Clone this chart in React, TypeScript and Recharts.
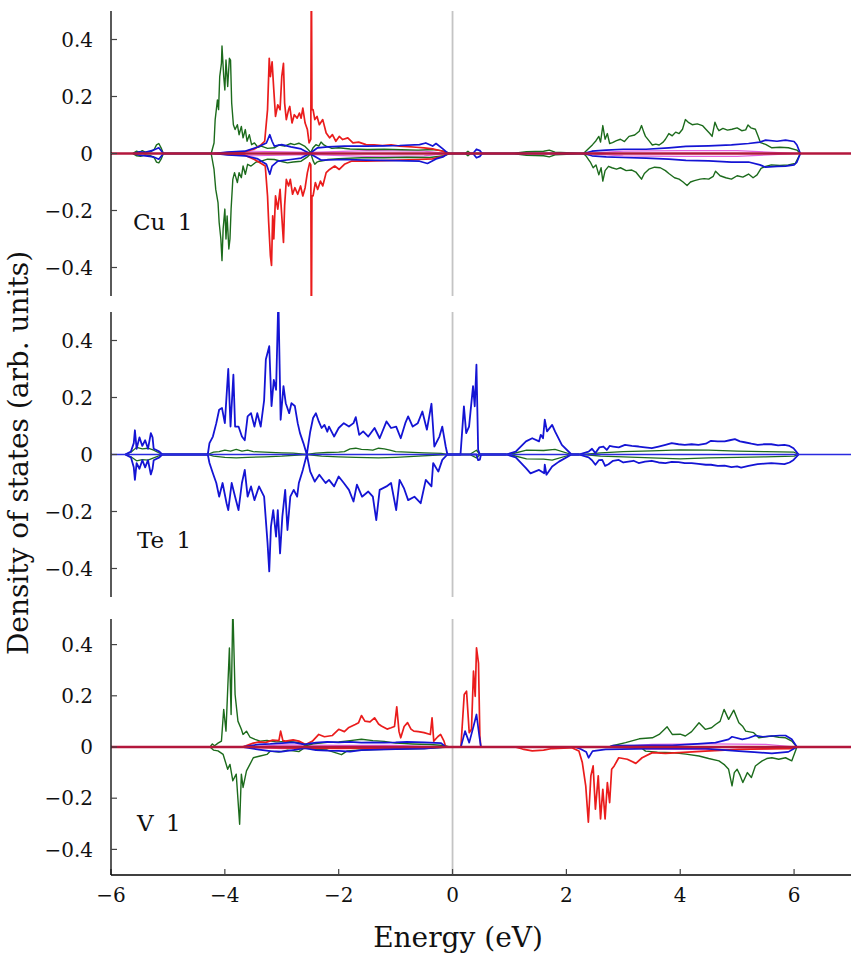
import React from "react"
import { LineChart, Line, XAxis, YAxis, ReferenceLine } from "recharts"

type P = [number, number][]

// ---- Cu 1 ----
const cuGreenUp: P = [
  [-5.62, 0], [-5.55, 0.008], [-5.5, 0.004], [-5.45, 0.01], [-5.4, 0.005], [-5.3, 0.006], [-5.24, 0.015], [-5.2, 0.03], [-5.16, 0.035], [-5.12, 0.02], [-5.08, 0],
  [-4.24, 0], [-4.19, 0.037], [-4.17, 0.119], [-4.13, 0.188], [-4.11, 0.154], [-4.09, 0.27], [-4.06, 0.316], [-4.05, 0.377], [-4.02, 0.27], [-4.0, 0.223], [-3.98, 0.328], [-3.95, 0.235], [-3.92, 0.334], [-3.9, 0.328], [-3.88, 0.177], [-3.85, 0.101], [-3.82, 0.084], [-3.78, 0.101], [-3.75, 0.066], [-3.71, 0.095], [-3.68, 0.055], [-3.64, 0.084], [-3.61, 0.043], [-3.57, 0.066], [-3.53, 0.031], [-3.48, 0.037], [-3.42, 0.022], [-3.36, 0.026], [-3.25, 0.018], [-3.13, 0.02], [-3.05, 0.03], [-2.95, 0.026], [-2.85, 0.035], [-2.78, 0.031], [-2.7, 0.036], [-2.6, 0.026], [-2.53, 0.012], [-2.49, 0.003], [-2.45, 0.02], [-2.4, 0.031], [-2.35, 0.026], [-2.31, 0.04], [-2.26, 0.03], [-2.22, 0.026], [-2.12, 0.018], [-2.0, 0.02], [-1.8, 0.016], [-1.5, 0.014], [-1.2, 0.015], [-0.9, 0.013], [-0.6, 0.012], [-0.35, 0.014], [-0.2, 0.01], [-0.1, 0.005], [-0.05, 0],
  [0.22, 0], [0.27, 0.008], [0.32, 0], [1.05, 0], [1.3, 0.006], [1.6, 0.008], [1.7, 0.012], [1.8, 0.005], [2.3, 0],
  [2.35, 0.01], [2.46, 0.031], [2.52, 0.045], [2.57, 0.06], [2.6, 0.04], [2.64, 0.098], [2.68, 0.05], [2.72, 0.07], [2.76, 0.035], [2.81, 0.038], [2.88, 0.045], [2.95, 0.05], [3.02, 0.042], [3.1, 0.06], [3.2, 0.065], [3.28, 0.078], [3.32, 0.098], [3.36, 0.075], [3.39, 0.06], [3.45, 0.045], [3.51, 0.03], [3.57, 0.033], [3.63, 0.03], [3.7, 0.04], [3.74, 0.05], [3.8, 0.07], [3.86, 0.062], [3.92, 0.075], [3.98, 0.07], [4.04, 0.085], [4.09, 0.119], [4.15, 0.108], [4.21, 0.101], [4.3, 0.104], [4.39, 0.098], [4.45, 0.085], [4.52, 0.07], [4.56, 0.06], [4.61, 0.11], [4.65, 0.09], [4.68, 0.08], [4.75, 0.088], [4.83, 0.082], [4.91, 0.085], [5.0, 0.09], [5.08, 0.08], [5.15, 0.083], [5.19, 0.1], [5.24, 0.09], [5.32, 0.085], [5.37, 0.06], [5.41, 0.038], [5.5, 0.032], [5.61, 0.02], [5.75, 0.022], [5.9, 0.02], [6.05, 0.012], [6.11, 0],
]
const cuGreenDn: P = [
  [-5.62, 0], [-5.55, -0.008], [-5.48, -0.01], [-5.4, -0.005], [-5.3, -0.008], [-5.24, -0.015], [-5.2, -0.03], [-5.16, -0.033], [-5.12, -0.02], [-5.08, 0],
  [-4.24, 0], [-4.19, -0.056], [-4.16, -0.126], [-4.12, -0.172], [-4.1, -0.242], [-4.07, -0.3], [-4.05, -0.376], [-4.03, -0.265], [-4.0, -0.195], [-3.98, -0.3], [-3.96, -0.219], [-3.93, -0.335], [-3.91, -0.3], [-3.89, -0.195], [-3.86, -0.091], [-3.83, -0.067], [-3.78, -0.102], [-3.75, -0.067], [-3.71, -0.085], [-3.68, -0.044], [-3.64, -0.073], [-3.6, -0.038], [-3.54, -0.044], [-3.45, -0.03], [-3.36, -0.027], [-3.25, -0.02], [-3.13, -0.021], [-3.0, -0.028], [-2.9, -0.033], [-2.8, -0.03], [-2.66, -0.027], [-2.55, -0.012], [-2.49, 0], [-2.45, -0.025], [-2.42, -0.038], [-2.38, -0.03], [-2.34, -0.027], [-2.26, -0.025], [-2.19, -0.021], [-2.0, -0.018], [-1.6, -0.015], [-1.2, -0.015], [-0.8, -0.013], [-0.4, -0.014], [-0.15, -0.008], [-0.05, 0],
  [0.22, 0], [0.27, -0.008], [0.32, 0], [1.05, 0], [1.3, -0.006], [1.6, -0.008], [1.7, -0.012], [1.8, -0.005], [2.3, 0],
  [2.35, -0.01], [2.42, -0.03], [2.47, -0.05], [2.52, -0.04], [2.57, -0.075], [2.61, -0.05], [2.64, -0.097], [2.68, -0.06], [2.74, -0.045], [2.8, -0.05], [2.88, -0.055], [2.95, -0.05], [3.05, -0.06], [3.15, -0.058], [3.22, -0.065], [3.28, -0.08], [3.32, -0.09], [3.37, -0.07], [3.45, -0.055], [3.55, -0.048], [3.65, -0.05], [3.74, -0.06], [3.8, -0.07], [3.9, -0.085], [3.98, -0.09], [4.05, -0.1], [4.12, -0.112], [4.18, -0.1], [4.25, -0.095], [4.35, -0.09], [4.42, -0.088], [4.5, -0.09], [4.58, -0.08], [4.62, -0.062], [4.7, -0.078], [4.8, -0.085], [4.9, -0.09], [5.0, -0.078], [5.1, -0.083], [5.2, -0.072], [5.28, -0.085], [5.35, -0.075], [5.42, -0.052], [5.5, -0.045], [5.6, -0.04], [5.75, -0.042], [5.9, -0.04], [6.02, -0.035], [6.11, 0],
]
const cuRedUp: P = [
  [-4.2, 0], [-3.9, 0.004], [-3.65, 0.006], [-3.48, 0.016], [-3.36, 0.031], [-3.3, 0.043], [-3.25, 0.154], [-3.22, 0.334], [-3.2, 0.27], [-3.17, 0.322], [-3.14, 0.223], [-3.11, 0.13], [-3.07, 0.171], [-3.03, 0.154], [-3.0, 0.27], [-2.97, 0.316], [-2.95, 0.177], [-2.92, 0.119], [-2.88, 0.154], [-2.86, 0.165], [-2.82, 0.107], [-2.78, 0.136], [-2.73, 0.124], [-2.69, 0.142], [-2.66, 0.124], [-2.63, 0.159], [-2.59, 0.107], [-2.55, 0.084], [-2.52, 0.037], [-2.49, 0.05], [-2.48, 0.7], [-2.47, 0.154], [-2.45, 0.154], [-2.42, 0.119], [-2.38, 0.13], [-2.34, 0.101], [-2.28, 0.119], [-2.22, 0.072], [-2.16, 0.055], [-2.11, 0.066], [-2.05, 0.043], [-1.99, 0.06], [-1.93, 0.049], [-1.84, 0.055], [-1.75, 0.037], [-1.65, 0.04], [-1.52, 0.031], [-1.38, 0.03], [-1.23, 0.028], [-1.08, 0.03], [-0.93, 0.026], [-0.78, 0.024], [-0.64, 0.022], [-0.5, 0.02], [-0.35, 0.016], [-0.17, 0.008], [-0.08, 0],
]
const cuRedDn: P = [
  [-4.2, 0], [-3.9, -0.004], [-3.65, -0.006], [-3.48, -0.021], [-3.36, -0.035], [-3.29, -0.044], [-3.25, -0.149], [-3.23, -0.242], [-3.2, -0.358], [-3.18, -0.393], [-3.16, -0.219], [-3.14, -0.3], [-3.11, -0.149], [-3.07, -0.195], [-3.03, -0.126], [-3.0, -0.219], [-2.97, -0.312], [-2.95, -0.184], [-2.92, -0.091], [-2.88, -0.114], [-2.85, -0.091], [-2.81, -0.143], [-2.77, -0.12], [-2.72, -0.143], [-2.67, -0.114], [-2.63, -0.149], [-2.59, -0.12], [-2.55, -0.067], [-2.51, -0.033], [-2.49, -0.04], [-2.48, -0.7], [-2.47, -0.149], [-2.45, -0.149], [-2.41, -0.102], [-2.37, -0.126], [-2.32, -0.097], [-2.28, -0.114], [-2.22, -0.067], [-2.16, -0.056], [-2.07, -0.044], [-1.99, -0.056], [-1.9, -0.038], [-1.78, -0.027], [-1.52, -0.027], [-1.2, -0.025], [-0.93, -0.023], [-0.6, -0.021], [-0.35, -0.019], [-0.17, -0.01], [-0.08, 0],
]
const cuBlueUp: P = [
  [-5.6, 0], [-5.5, 0.006], [-5.4, 0.004], [-5.25, 0.012], [-5.16, 0.02], [-5.08, 0],
  [-4.2, 0], [-3.95, 0.005], [-3.65, 0.008], [-3.42, 0.023], [-3.27, 0.037], [-3.21, 0.066], [-3.17, 0.043], [-3.13, 0.026], [-3.0, 0.031], [-2.84, 0.023], [-2.66, 0.016], [-2.51, 0], [-2.37, 0.02], [-2.19, 0.023], [-1.9, 0.026], [-1.52, 0.026], [-1.2, 0.027], [-0.93, 0.028], [-0.58, 0.031], [-0.47, 0.037], [-0.35, 0.026], [-0.29, 0.035], [-0.17, 0.016], [-0.08, 0],
  [0.36, 0], [0.42, 0.015], [0.48, 0.01], [0.52, 0],
  [2.3, 0], [2.45, 0.008], [2.7, 0.012], [3.0, 0.015], [3.4, 0.015], [3.8, 0.02], [4.1, 0.025], [4.5, 0.027], [4.9, 0.03], [5.2, 0.035], [5.4, 0.04], [5.5, 0.047], [5.7, 0.043], [5.85, 0.047], [6.0, 0.042], [6.05, 0.03], [6.11, 0],
]
const cuBlueDn: P = [
  [-5.6, 0], [-5.5, -0.006], [-5.25, -0.012], [-5.16, -0.02], [-5.08, 0],
  [-4.2, 0], [-3.95, -0.005], [-3.65, -0.008], [-3.42, -0.019], [-3.27, -0.038], [-3.21, -0.073], [-3.17, -0.044], [-3.07, -0.027], [-2.84, -0.021], [-2.66, -0.016], [-2.51, 0], [-2.31, -0.023], [-1.9, -0.021], [-1.52, -0.023], [-1.0, -0.025], [-0.58, -0.027], [-0.44, -0.035], [-0.29, -0.019], [-0.17, -0.012], [-0.08, 0],
  [0.36, 0], [0.42, -0.015], [0.48, -0.01], [0.52, 0],
  [2.3, 0], [2.45, -0.008], [2.7, -0.012], [3.0, -0.014], [3.4, -0.016], [3.8, -0.02], [4.1, -0.024], [4.5, -0.026], [4.9, -0.03], [5.2, -0.03], [5.4, -0.04], [5.5, -0.048], [5.7, -0.045], [5.85, -0.044], [6.0, -0.04], [6.05, -0.03], [6.11, 0],
]
const cuMagUp: P = [[-4.2, 0], [-3.5, 0.008], [-2.5, 0.004], [-1.5, 0.01], [-0.5, 0.008], [-0.08, 0], [2.3, 0], [3.0, 0.008], [4.0, 0.01], [5.0, 0.01], [6.1, 0]]
const cuMagDn: P = [[-4.2, 0], [-3.5, -0.008], [-2.5, -0.004], [-1.5, -0.01], [-0.5, -0.008], [-0.08, 0], [2.3, 0], [3.0, -0.008], [4.0, -0.01], [5.0, -0.01], [6.1, 0]]

// ---- Te 1 ----
const teBlueUp: P = [
  [-5.75, 0], [-5.65, 0.01], [-5.6, 0.04], [-5.58, 0.085], [-5.55, 0.02], [-5.5, 0.06], [-5.45, 0.03], [-5.4, 0.05], [-5.35, 0.02], [-5.3, 0.075], [-5.27, 0.06], [-5.25, 0.02], [-5.15, 0.01], [-5.1, 0],
  [-4.3, 0], [-4.27, 0.04], [-4.21, 0.063], [-4.15, 0.11], [-4.1, 0.157], [-4.05, 0.163], [-4.0, 0.11], [-3.94, 0.3], [-3.9, 0.098], [-3.85, 0.28], [-3.82, 0.098], [-3.76, 0.098], [-3.7, 0.063], [-3.65, 0.05], [-3.6, 0.134], [-3.54, 0.145], [-3.48, 0.098], [-3.43, 0.145], [-3.37, 0.098], [-3.31, 0.19], [-3.28, 0.333], [-3.22, 0.38], [-3.18, 0.17], [-3.14, 0.262], [-3.1, 0.227], [-3.06, 0.55], [-3.02, 0.122], [-2.97, 0.24], [-2.93, 0.18], [-2.87, 0.145], [-2.83, 0.18], [-2.77, 0.17], [-2.72, 0.11], [-2.68, 0.075], [-2.62, 0.04], [-2.56, 0],
  [-2.5, 0.08], [-2.45, 0.128], [-2.4, 0.145], [-2.35, 0.116], [-2.3, 0.093], [-2.25, 0.104], [-2.2, 0.08], [-2.17, 0.098], [-2.08, 0.063], [-2.0, 0.093], [-1.91, 0.11], [-1.82, 0.098], [-1.74, 0.11], [-1.7, 0.131], [-1.64, 0.069], [-1.57, 0.081], [-1.48, 0.063], [-1.37, 0.093], [-1.28, 0.057], [-1.16, 0.116], [-1.08, 0.093], [-0.99, 0.098], [-0.91, 0.057], [-0.83, 0.11], [-0.78, 0.134], [-0.7, 0.098], [-0.61, 0.11], [-0.53, 0.151], [-0.45, 0.087], [-0.37, 0.178], [-0.32, 0.028], [-0.23, 0.063], [-0.18, 0.098], [-0.12, 0.028], [-0.09, 0],
  [0.14, 0], [0.2, 0.169], [0.24, 0.075], [0.29, 0.098], [0.36, 0.24], [0.39, 0.169], [0.42, 0.315], [0.45, 0.016], [0.48, 0],
  [0.94, 0], [1.11, 0.01], [1.29, 0.046], [1.4, 0.057], [1.52, 0.046], [1.55, 0.069], [1.59, 0.057], [1.62, 0.122], [1.66, 0.081], [1.75, 0.104], [1.8, 0.081], [1.92, 0.034], [2.09, 0],
  [2.22, 0], [2.39, 0.01], [2.45, 0.02], [2.51, 0.005], [2.58, 0.025], [2.65, 0.028], [2.71, 0.016], [2.76, 0.03], [2.82, 0.028], [2.92, 0.025], [3.03, 0.034], [3.15, 0.03], [3.27, 0.028], [3.38, 0.025], [3.5, 0.022], [3.62, 0.028], [3.74, 0.034], [3.85, 0.04], [3.97, 0.036], [4.08, 0.034], [4.2, 0.036], [4.32, 0.034], [4.45, 0.038], [4.54, 0.048], [4.66, 0.046], [4.78, 0.046], [4.87, 0.05], [4.96, 0.054], [5.05, 0.046], [5.13, 0.043], [5.25, 0.038], [5.36, 0.034], [5.48, 0.036], [5.6, 0.036], [5.72, 0.032], [5.83, 0.034], [5.92, 0.03], [5.99, 0.022], [6.08, 0],
]
const teBlueDn: P = [
  [-5.75, 0], [-5.65, -0.01], [-5.6, -0.045], [-5.58, -0.089], [-5.55, -0.03], [-5.5, -0.05], [-5.45, -0.02], [-5.4, -0.045], [-5.35, -0.02], [-5.3, -0.07], [-5.27, -0.05], [-5.25, -0.02], [-5.15, -0.01], [-5.1, 0],
  [-4.3, 0], [-4.27, -0.03], [-4.21, -0.066], [-4.15, -0.1], [-4.1, -0.148], [-4.04, -0.1], [-3.97, -0.171], [-3.94, -0.195], [-3.88, -0.1], [-3.82, -0.148], [-3.76, -0.195], [-3.7, -0.1], [-3.65, -0.054], [-3.6, -0.148], [-3.54, -0.112], [-3.48, -0.16], [-3.4, -0.112], [-3.31, -0.148], [-3.25, -0.31], [-3.22, -0.41], [-3.19, -0.253], [-3.15, -0.195], [-3.1, -0.288], [-3.07, -0.195], [-3.03, -0.347], [-2.99, -0.218], [-2.94, -0.124], [-2.9, -0.265], [-2.85, -0.148], [-2.79, -0.124], [-2.73, -0.148], [-2.7, -0.1], [-2.63, -0.054], [-2.56, 0],
  [-2.5, -0.06], [-2.42, -0.095], [-2.34, -0.071], [-2.23, -0.1], [-2.17, -0.089], [-2.08, -0.112], [-2.0, -0.077], [-1.91, -0.1], [-1.82, -0.124], [-1.74, -0.165], [-1.68, -0.106], [-1.59, -0.148], [-1.48, -0.13], [-1.4, -0.148], [-1.34, -0.23], [-1.28, -0.124], [-1.16, -0.112], [-1.08, -0.1], [-0.99, -0.195], [-0.93, -0.089], [-0.85, -0.12], [-0.78, -0.16], [-0.67, -0.148], [-0.56, -0.171], [-0.47, -0.089], [-0.37, -0.112], [-0.34, -0.03], [-0.25, -0.06], [-0.18, -0.019], [-0.09, 0],
  [0.42, 0], [0.45, -0.02], [0.48, -0.018], [0.5, 0],
  [0.94, 0], [1.11, -0.01], [1.29, -0.048], [1.37, -0.066], [1.52, -0.054], [1.61, -0.066], [1.62, -0.036], [1.65, -0.071], [1.75, -0.042], [1.87, -0.025], [2.09, 0],
  [2.22, 0], [2.39, -0.01], [2.45, -0.02], [2.51, -0.036], [2.57, -0.02], [2.63, -0.019], [2.68, -0.04], [2.74, -0.034], [2.82, -0.022], [2.92, -0.019], [3.0, -0.028], [3.09, -0.025], [3.18, -0.022], [3.27, -0.03], [3.38, -0.025], [3.5, -0.022], [3.62, -0.028], [3.74, -0.03], [3.85, -0.026], [3.97, -0.027], [4.08, -0.03], [4.2, -0.03], [4.32, -0.033], [4.45, -0.036], [4.54, -0.036], [4.66, -0.04], [4.78, -0.039], [4.9, -0.044], [5.0, -0.042], [5.07, -0.046], [5.2, -0.04], [5.36, -0.034], [5.48, -0.032], [5.6, -0.03], [5.72, -0.032], [5.83, -0.034], [5.92, -0.028], [5.99, -0.019], [6.08, 0],
]
const teGreenUp: P = [
  [-5.75, 0], [-5.65, 0.008], [-5.55, 0.025], [-5.45, 0.02], [-5.35, 0.022], [-5.25, 0.015], [-5.1, 0],
  [-4.3, 0], [-4.2, 0.008], [-4.1, 0.01], [-4.0, 0.015], [-3.9, 0.012], [-3.8, 0.018], [-3.7, 0.012], [-3.6, 0.015], [-3.5, 0.01], [-3.3, 0.008], [-3.0, 0.006], [-2.8, 0.005], [-2.56, 0], [-2.4, 0.005], [-2.2, 0.007], [-2.0, 0.008], [-1.9, 0.01], [-1.8, 0.02], [-1.7, 0.022], [-1.6, 0.018], [-1.5, 0.017], [-1.4, 0.015], [-1.3, 0.022], [-1.2, 0.02], [-1.1, 0.015], [-1.0, 0.01], [-0.8, 0.008], [-0.5, 0.006], [-0.2, 0.004], [-0.09, 0],
  [0.3, 0], [0.42, 0.015], [0.48, 0],
  [1.0, 0], [1.3, 0.015], [1.6, 0.014], [1.8, 0.018], [2.09, 0],
  [2.3, 0], [2.6, 0.006], [3.0, 0.01], [3.5, 0.013], [4.0, 0.016], [4.5, 0.015], [5.0, 0.012], [5.5, 0.01], [6.0, 0.008], [6.08, 0],
]
const teGreenDn: P = [
  [-5.75, 0], [-5.65, -0.008], [-5.55, -0.022], [-5.45, -0.018], [-5.35, -0.02], [-5.25, -0.012], [-5.1, 0],
  [-4.3, 0], [-4.2, -0.006], [-4.0, -0.01], [-3.8, -0.012], [-3.6, -0.01], [-3.3, -0.008], [-3.0, -0.006], [-2.56, 0], [-2.3, -0.006], [-2.0, -0.008], [-1.7, -0.01], [-1.3, -0.012], [-1.0, -0.01], [-0.6, -0.006], [-0.09, 0],
  [0.3, 0], [0.42, -0.012], [0.48, 0],
  [1.0, 0], [1.3, -0.015], [1.6, -0.016], [1.75, -0.02], [2.09, 0],
  [2.3, 0], [2.6, -0.006], [3.0, -0.008], [3.5, -0.012], [4.0, -0.015], [4.5, -0.012], [5.0, -0.01], [5.5, -0.008], [6.0, -0.006], [6.08, 0],
]

// ---- V 1 ----
const vGreenUp: P = [
  [-4.26, 0], [-4.22, 0.012], [-4.18, 0.005], [-4.12, 0.015], [-4.06, 0.023], [-4.02, 0.147], [-3.98, 0.062], [-3.92, 0.387], [-3.89, 0.127], [-3.86, 0.55], [-3.82, 0.205], [-3.77, 0.101], [-3.71, 0.069], [-3.68, 0.049], [-3.62, 0.062], [-3.56, 0.039], [-3.47, 0.03], [-3.38, 0.023], [-3.26, 0.026], [-3.1, 0.02], [-2.9, 0.022], [-2.7, 0.018], [-2.58, 0.005], [-2.45, 0.012], [-2.2, 0.018], [-2.0, 0.02], [-1.8, 0.025], [-1.6, 0.03], [-1.4, 0.025], [-1.2, 0.022], [-1.0, 0.015], [-0.7, 0.012], [-0.4, 0.01], [-0.15, 0.006], [-0.05, 0],
  [2.75, 0], [2.81, 0.005], [3.04, 0.017], [3.28, 0.032], [3.51, 0.036], [3.63, 0.049], [3.77, 0.079], [3.86, 0.049], [4.0, 0.05], [4.09, 0.043], [4.2, 0.06], [4.33, 0.095], [4.44, 0.069], [4.55, 0.075], [4.62, 0.088], [4.7, 0.1], [4.77, 0.147], [4.85, 0.108], [4.94, 0.144], [5.03, 0.095], [5.1, 0.08], [5.15, 0.062], [5.29, 0.056], [5.38, 0.036], [5.5, 0.04], [5.61, 0.043], [5.73, 0.038], [5.85, 0.036], [5.96, 0.023], [6.05, 0],
]
const vGreenDn: P = [
  [-4.26, 0], [-4.2, -0.012], [-4.12, -0.015], [-4.03, -0.029], [-3.95, -0.087], [-3.91, -0.068], [-3.86, -0.132], [-3.8, -0.106], [-3.74, -0.302], [-3.71, -0.106], [-3.68, -0.158], [-3.62, -0.093], [-3.56, -0.068], [-3.5, -0.042], [-3.38, -0.035], [-3.26, -0.029], [-3.2, -0.016], [-3.05, -0.02], [-2.9, -0.012], [-2.7, -0.018], [-2.58, 0], [-2.4, -0.01], [-2.2, -0.012], [-1.95, -0.03], [-1.85, -0.015], [-1.6, -0.012], [-1.4, -0.01], [-1.0, -0.008], [-0.5, -0.006], [-0.05, 0],
  [3.3, 0], [3.39, -0.016], [3.6, -0.02], [3.86, -0.022], [4.1, -0.028], [4.33, -0.035], [4.5, -0.045], [4.68, -0.054], [4.78, -0.07], [4.85, -0.087], [4.91, -0.152], [4.95, -0.1], [5.0, -0.087], [5.05, -0.11], [5.1, -0.139], [5.18, -0.1], [5.25, -0.119], [5.32, -0.074], [5.44, -0.054], [5.52, -0.045], [5.61, -0.042], [5.73, -0.048], [5.85, -0.042], [5.96, -0.054], [6.05, 0],
]
const vRedUp: P = [
  [-3.7, 0], [-3.63, 0.005], [-3.5, 0.015], [-3.4, 0.02], [-3.28, 0.018], [-3.16, 0.027], [-3.05, 0.025], [-3.02, 0.062], [-2.98, 0.025], [-2.93, 0.023], [-2.8, 0.028], [-2.7, 0.023], [-2.58, 0.01], [-2.46, 0.023], [-2.35, 0.049], [-2.25, 0.04], [-2.11, 0.045], [-2.0, 0.069], [-1.9, 0.06], [-1.83, 0.075], [-1.71, 0.088], [-1.65, 0.095], [-1.6, 0.123], [-1.54, 0.101], [-1.45, 0.098], [-1.37, 0.114], [-1.3, 0.09], [-1.25, 0.082], [-1.15, 0.07], [-1.08, 0.075], [-1.02, 0.08], [-0.98, 0.157], [-0.94, 0.06], [-0.91, 0.036], [-0.85, 0.08], [-0.79, 0.095], [-0.73, 0.07], [-0.68, 0.062], [-0.6, 0.06], [-0.5, 0.056], [-0.39, 0.049], [-0.36, 0.114], [-0.33, 0.023], [-0.26, 0.04], [-0.21, 0.049], [-0.15, 0.023], [-0.12, 0],
  [0.147, 0], [0.205, 0.205], [0.246, 0.218], [0.293, 0.056], [0.333, 0.069], [0.368, 0.296], [0.398, 0.198], [0.421, 0.387], [0.456, 0.328], [0.48, 0.043], [0.498, 0],
]
const vRedDn: P = [
  [-3.7, 0], [-3.0, -0.004], [-2.0, -0.005], [-1.0, -0.004], [-0.12, 0],
  [1.1, 0], [1.23, -0.008], [1.4, -0.015], [1.6, -0.012], [1.75, -0.006], [2.05, -0.004], [2.105, -0.004], [2.22, -0.016], [2.28, -0.061], [2.34, -0.152], [2.386, -0.294], [2.43, -0.113], [2.47, -0.074], [2.51, -0.243], [2.56, -0.113], [2.6, -0.281], [2.64, -0.165], [2.68, -0.281], [2.72, -0.139], [2.76, -0.217], [2.795, -0.087], [2.84, -0.074], [2.92, -0.042], [3.07, -0.048], [3.22, -0.064], [3.33, -0.042], [3.51, -0.022], [3.74, -0.025], [3.98, -0.022], [4.44, -0.016], [5.03, -0.009], [5.96, -0.006], [6.05, 0],
]
const vBlueUp: P = [
  [-3.7, 0], [-3.4, 0.01], [-3.2, 0.012], [-3.0, 0.015], [-2.8, 0.018], [-2.6, 0.01], [-2.4, 0.017], [-2.2, 0.02], [-2.0, 0.018], [-1.8, 0.02], [-1.6, 0.017], [-1.4, 0.018], [-1.2, 0.017], [-1.0, 0.018], [-0.8, 0.02], [-0.5, 0.018], [-0.2, 0.015], [-0.12, 0],
  [0.147, 0], [0.22, 0.062], [0.293, 0.017], [0.37, 0.082], [0.421, 0.127], [0.47, 0.043], [0.498, 0],
  [2.75, 0], [2.81, 0.005], [3.5, 0.006], [3.86, 0.006], [4.3, 0.012], [4.62, 0.017], [4.85, 0.03], [4.91, 0.04], [5.09, 0.03], [5.2, 0.035], [5.32, 0.045], [5.45, 0.04], [5.61, 0.043], [5.75, 0.045], [5.85, 0.045], [5.96, 0.03], [6.05, 0],
]
const vBlueDn: P = [
  [-3.7, 0], [-3.4, -0.01], [-3.2, -0.016], [-3.0, -0.018], [-2.8, -0.012], [-2.6, -0.005], [-2.4, -0.012], [-2.2, -0.014], [-2.0, -0.015], [-1.8, -0.018], [-1.6, -0.012], [-1.3, -0.01], [-1.0, -0.008], [-0.5, -0.006], [-0.12, 0],
  [2.15, 0], [2.25, -0.008], [2.35, -0.02], [2.39, -0.042], [2.46, -0.016], [2.69, -0.009], [3.5, -0.006], [4.44, -0.006], [5.03, -0.016], [5.3, -0.02], [5.61, -0.025], [5.9, -0.019], [6.05, 0],
]
const vMagUp: P = [[-3.6, 0], [-3.0, 0.008], [-2.0, 0.006], [-1.0, 0.006], [-0.12, 0], [2.8, 0], [3.5, 0.01], [4.5, 0.012], [5.5, 0.01], [6.05, 0]]
const vMagDn: P = [[-3.6, 0], [-3.0, -0.006], [-2.0, -0.005], [-1.0, -0.005], [-0.12, 0], [2.8, 0], [3.5, -0.008], [4.5, -0.01], [5.5, -0.008], [6.05, 0]]

const zeroLine: P = [[-6, 0], [7, 0]]

const xTicks = [-6, -4, -2, 0, 2, 4, 6]
const yTicks = [-0.4, -0.2, 0, 0.2, 0.4]
const panelNames = ["Cu 1", "Te 1", "V 1"]

const GREEN = "#1c6b1c"
const RED = "#ea1c1c"
const BLUE = "#1414d4"
const MAGENTA = "#e060e0"
const BASE = "#b3173c"
const FONT = "DejaVu Serif, Liberation Serif, Noto Serif, serif"

const pts = (a: P) => a.map(([e, v]) => ({ e, v }))
const fmtX = (v: number) => (v < 0 ? "\u2212" + Math.abs(v) : String(v))
const fmtY = (v: number) => (v === 0 ? "0" : (v < 0 ? "\u2212" : "") + Math.abs(v).toFixed(1))
const blank = () => ""

type Series = { data: P; color: string; width: number }

function Panel({ plotTop, plotH, series, labels }: { plotTop: number; plotH: number; series: Series[]; labels: boolean }) {
  const bottomH = labels ? 80 : 0
  const mb = labels ? 0 : 4
  const h = 11 + plotH + bottomH + mb
  const axisLine = { stroke: "#000", strokeWidth: 1.3 }
  const tickLine = { stroke: "#444", strokeWidth: 1.2 }
  return (
    <div style={{ position: "absolute", left: 0, top: plotTop - 11 }}>
      <LineChart width={863} height={h} margin={{ top: 11, right: 12, bottom: mb, left: 0 }}>
        <XAxis
          xAxisId="b"
          dataKey="e"
          type="number"
          domain={[-6, 7]}
          allowDataOverflow
          ticks={xTicks}
          interval={0}
          height={bottomH}
          tickSize={-6}
          tickMargin={19}
          tickFormatter={labels ? fmtX : blank}
          axisLine={axisLine}
          tickLine={tickLine}
          tick={{ fill: "#111", fontSize: 20, fontFamily: FONT }}
        />
        <XAxis
          xAxisId="t"
          orientation="top"
          dataKey="e"
          type="number"
          domain={[-6, 7]}
          allowDataOverflow
          ticks={xTicks}
          interval={0}
          height={0}
          tickSize={-6}
          tickFormatter={blank}
          axisLine={axisLine}
          tickLine={tickLine}
        />
        <YAxis
          yAxisId="l"
          type="number"
          domain={[-0.5, 0.5]}
          allowDataOverflow
          ticks={yTicks}
          interval={0}
          width={111}
          tickSize={-6}
          tickMargin={24}
          tickFormatter={fmtY}
          axisLine={axisLine}
          tickLine={tickLine}
          tick={{ fill: "#111", fontSize: 20, fontFamily: FONT }}
        />
        <YAxis
          yAxisId="r"
          orientation="right"
          type="number"
          domain={[-0.5, 0.5]}
          allowDataOverflow
          ticks={yTicks}
          interval={0}
          width={0}
          tickSize={-6}
          tickFormatter={blank}
          axisLine={axisLine}
          tickLine={tickLine}
        />
        <ReferenceLine xAxisId="b" yAxisId="l" x={0} stroke="#c4c4c4" strokeWidth={1.8} />
        {series.map((s, i) => (
          <Line
            key={i}
            xAxisId="b"
            yAxisId="l"
            data={pts(s.data)}
            dataKey="v"
            type="linear"
            stroke={s.color}
            strokeWidth={s.width}
            strokeLinejoin="round"
            dot={false}
            activeDot={false}
            isAnimationActive={false}
          />
        ))}
      </LineChart>
    </div>
  )
}

const cuSeries: Series[] = [
  { data: cuMagUp, color: MAGENTA, width: 1.2 },
  { data: cuMagDn, color: MAGENTA, width: 1.2 },
  { data: cuGreenUp, color: GREEN, width: 1.4 },
  { data: cuGreenDn, color: GREEN, width: 1.4 },
  { data: cuRedUp, color: RED, width: 1.7 },
  { data: cuRedDn, color: RED, width: 1.7 },
  { data: cuBlueUp, color: BLUE, width: 1.7 },
  { data: cuBlueDn, color: BLUE, width: 1.7 },
  { data: zeroLine, color: BASE, width: 2.6 },
]
const teSeries: Series[] = [
  { data: teGreenUp, color: GREEN, width: 1.3 },
  { data: teGreenDn, color: GREEN, width: 1.3 },
  { data: teBlueUp, color: BLUE, width: 1.8 },
  { data: teBlueDn, color: BLUE, width: 1.8 },
  { data: zeroLine, color: "#2a2ae0", width: 1.5 },
]
const vSeries: Series[] = [
  { data: vMagUp, color: MAGENTA, width: 1.2 },
  { data: vMagDn, color: MAGENTA, width: 1.2 },
  { data: vGreenUp, color: GREEN, width: 1.4 },
  { data: vGreenDn, color: GREEN, width: 1.4 },
  { data: vRedUp, color: RED, width: 1.7 },
  { data: vRedDn, color: RED, width: 1.7 },
  { data: vBlueUp, color: BLUE, width: 1.7 },
  { data: vBlueDn, color: BLUE, width: 1.7 },
  { data: zeroLine, color: BASE, width: 2.6 },
]

const nameStyle = (left: number, top: number): React.CSSProperties => ({
  position: "absolute",
  left,
  top,
  fontFamily: FONT,
  fontSize: 23,
  lineHeight: "30px",
  wordSpacing: 5,
  color: "#111",
  whiteSpace: "nowrap",
})

export default function App() {
  return (
    <div style={{ position: "absolute", left: 0, top: 0, width: 863, height: 955, background: "#fff", overflow: "hidden" }}>
      <Panel plotTop={11} plotH={285} series={cuSeries} labels={false} />
      <Panel plotTop={312} plotH={285} series={teSeries} labels={false} />
      <Panel plotTop={619} plotH={256} series={vSeries} labels={true} />
      <div style={nameStyle(133, 207)}>{panelNames[0]}</div>
      <div style={nameStyle(137, 525)}>{panelNames[1]}</div>
      <div style={nameStyle(137, 808)}>{panelNames[2]}</div>
      <div
        style={{
          position: "absolute",
          left: 458,
          top: 937,
          transform: "translate(-50%, -50%)",
          fontFamily: FONT,
          fontSize: 28,
          color: "#111",
          whiteSpace: "nowrap",
        }}
      >
        Energy (eV)
      </div>
      <div
        style={{
          position: "absolute",
          left: 18,
          top: 453,
          transform: "translate(-50%, -50%) rotate(-90deg)",
          fontFamily: FONT,
          fontSize: 28,
          color: "#111",
          whiteSpace: "nowrap",
        }}
      >
        Density of states (arb. units)
      </div>
    </div>
  )
}
